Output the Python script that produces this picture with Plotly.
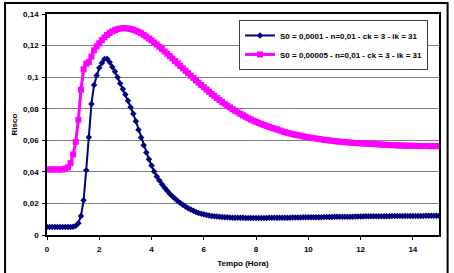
import plotly.graph_objects as go

# Time (hours), step 0.1 from 0 to 15
tempo = [round(i * 0.1, 1) for i in range(151)]

# S0 = 0,0001 series (navy)
risco_a = [
    0.0050, 0.0050, 0.0050, 0.0050, 0.0050, 0.0050, 0.0050, 0.0050, 0.0050, 0.0050,  # 0.0-0.9
    0.0052, 0.0058, 0.0075, 0.0120, 0.0220, 0.0410, 0.0620, 0.0830, 0.0950, 0.1010,  # 1.0-1.9
    0.1060, 0.1090, 0.1115, 0.1117, 0.1095, 0.1065, 0.1035, 0.1000, 0.0960, 0.0925,  # 2.0-2.9
    0.0890, 0.0850, 0.0810, 0.0768, 0.0720, 0.0667, 0.0617, 0.0568, 0.0522, 0.0480,  # 3.0-3.9
    0.0440, 0.0402, 0.0370, 0.0345, 0.0322, 0.0300, 0.0280, 0.0262, 0.0245, 0.0230,  # 4.0-4.9
    0.0216, 0.0203, 0.0191, 0.0180, 0.0170, 0.0161, 0.0153, 0.0146, 0.0140, 0.0135,  # 5.0-5.9
    0.0131, 0.0127, 0.0124, 0.0121, 0.0119, 0.0117, 0.0115, 0.0114, 0.0113, 0.0112,  # 6.0-6.9
    0.0111, 0.0110, 0.0110, 0.0109, 0.0109, 0.0109, 0.0108, 0.0108, 0.0108, 0.0108,  # 7.0-7.9
    0.0108, 0.0108, 0.0108, 0.0108, 0.0108, 0.0109, 0.0109, 0.0109, 0.0109, 0.0109,  # 8.0-8.9
    0.0110, 0.0110, 0.0110, 0.0110, 0.0111, 0.0111, 0.0111, 0.0111, 0.0112, 0.0112,  # 9.0-9.9
    0.0112, 0.0112, 0.0113, 0.0113, 0.0113, 0.0113, 0.0114, 0.0114, 0.0114, 0.0114,  # 10.0-10.9
    0.0115, 0.0115, 0.0115, 0.0115, 0.0116, 0.0116, 0.0116, 0.0116, 0.0117, 0.0117,  # 11.0-11.9
    0.0117, 0.0117, 0.0118, 0.0118, 0.0118, 0.0118, 0.0118, 0.0119, 0.0119, 0.0119,  # 12.0-12.9
    0.0119, 0.0119, 0.0120, 0.0120, 0.0120, 0.0120, 0.0120, 0.0120, 0.0121, 0.0121,  # 13.0-13.9
    0.0121, 0.0121, 0.0121, 0.0121, 0.0121, 0.0122, 0.0122, 0.0122, 0.0122, 0.0122,  # 14.0-14.9
    0.0122,                                                                          # 15.0
]

# S0 = 0,00005 series (magenta)
risco_b = [
    0.0415, 0.0415, 0.0415, 0.0415, 0.0415, 0.0415, 0.0415, 0.0420, 0.0428, 0.0455,  # 0.0-0.9
    0.0510, 0.0590, 0.0730, 0.0920, 0.1050, 0.1085, 0.1095, 0.1130, 0.1170, 0.1195,  # 1.0-1.9
    0.1215, 0.1235, 0.1252, 0.1267, 0.1280, 0.1290, 0.1298, 0.1304, 0.1308, 0.1310,  # 2.0-2.9
    0.1310, 0.1308, 0.1305, 0.1300, 0.1294, 0.1287, 0.1278, 0.1268, 0.1257, 0.1245,  # 3.0-3.9
    0.1233, 0.1220, 0.1206, 0.1192, 0.1178, 0.1163, 0.1148, 0.1133, 0.1118, 0.1102,  # 4.0-4.9
    0.1087, 0.1071, 0.1056, 0.1040, 0.1025, 0.1010, 0.0995, 0.0980, 0.0965, 0.0950,  # 5.0-5.9
    0.0936, 0.0922, 0.0908, 0.0894, 0.0881, 0.0868, 0.0855, 0.0843, 0.0831, 0.0819,  # 6.0-6.9
    0.0808, 0.0797, 0.0787, 0.0777, 0.0767, 0.0758, 0.0749, 0.0740, 0.0732, 0.0724,  # 7.0-7.9
    0.0717, 0.0710, 0.0703, 0.0697, 0.0691, 0.0685, 0.0679, 0.0674, 0.0669, 0.0663,  # 8.0-8.9
    0.0657, 0.0652, 0.0647, 0.0643, 0.0639, 0.0635, 0.0632, 0.0629, 0.0625, 0.0622,  # 9.0-9.9
    0.0619, 0.0616, 0.0613, 0.0611, 0.0608, 0.0606, 0.0603, 0.0601, 0.0599, 0.0597,  # 10.0-10.9
    0.0595, 0.0593, 0.0591, 0.0590, 0.0588, 0.0587, 0.0585, 0.0584, 0.0583, 0.0582,  # 11.0-11.9
    0.0581, 0.0580, 0.0579, 0.0578, 0.0577, 0.0576, 0.0575, 0.0574, 0.0573, 0.0572,  # 12.0-12.9
    0.0571, 0.0570, 0.0569, 0.0569, 0.0568, 0.0567, 0.0567, 0.0566, 0.0566, 0.0565,  # 13.0-13.9
    0.0565, 0.0565, 0.0564, 0.0564, 0.0564, 0.0564, 0.0563, 0.0563, 0.0563, 0.0563,  # 14.0-14.9
    0.0563,                                                                          # 15.0
]

nome_a = "S0 = 0,0001 - n=0,01 - ck = 3 - ik = 31"
nome_b = "S0 = 0,00005 - n=0,01 - ck = 3 - ik = 31"

x_ticks = [0, 2, 4, 6, 8, 10, 12, 14]
x_tick_labels = ["0", "2", "4", "6", "8", "10", "12", "14"]
y_ticks = [0, 0.02, 0.04, 0.06, 0.08, 0.10, 0.12, 0.14]
y_tick_labels = ["0", "0,02", "0,04", "0,06", "0,08", "0,1", "0,12", "0,14"]

FONT = "Liberation Sans, Arial, sans-serif"

fig = go.Figure()
fig.add_trace(go.Scatter(
    x=tempo, y=risco_a, name=nome_a, mode="lines+markers",
    line=dict(color="#000080", width=2),
    marker=dict(symbol="diamond", size=5, color="#000080"),
))
fig.add_trace(go.Scatter(
    x=tempo, y=risco_b, name=nome_b, mode="lines+markers",
    line=dict(color="#FF00FF", width=3),
    marker=dict(symbol="square", size=6, color="#FF00FF"),
))

fig.update_layout(
    width=454, height=273,
    margin=dict(l=47, r=15, t=14, b=38, autoexpand=False),
    paper_bgcolor="white", plot_bgcolor="white",
    font=dict(family=FONT, size=8, color="black"),
    showlegend=True,
    legend=dict(
        x=0.972, y=0.973, xanchor="right", yanchor="top",
        bgcolor="white", bordercolor="#404040", borderwidth=1,
        font=dict(family=FONT, size=8, color="black", weight="bold"),
        itemwidth=30, tracegroupgap=4,
    ),
    xaxis=dict(
        range=[0, 15], tickmode="array", tickvals=x_ticks, ticktext=x_tick_labels,
        ticks="outside", ticklen=3, tickcolor="black", ticklabelstandoff=3,
        showline=True, linecolor="black", linewidth=1.5, mirror=True,
        showgrid=False, zeroline=False, automargin=False,
        tickfont=dict(family=FONT, size=8, weight="bold"),
        title=dict(text="Tempo (Hora)", font=dict(family=FONT, size=8, weight="bold"), standoff=7),
    ),
    yaxis=dict(
        range=[0, 0.14], tickmode="array", tickvals=y_ticks, ticktext=y_tick_labels,
        ticks="outside", ticklen=3, tickcolor="black", ticklabelstandoff=2,
        showline=True, linecolor="black", linewidth=1.5, mirror=True,
        showgrid=True, gridcolor="#808080", gridwidth=1, zeroline=False, automargin=False,
        tickfont=dict(family=FONT, size=8, weight="bold"),
        title=dict(text="Risco", font=dict(family=FONT, size=8, weight="bold"), standoff=4),
    ),
    shapes=[dict(
        type="rect", xref="paper", yref="paper",
        x0=-0.107, x1=1.022, y0=-0.2, y1=1.05,
        line=dict(color="black", width=2), fillcolor="rgba(0,0,0,0)", layer="below",
    )],
)

fig.write_html("out.html")
